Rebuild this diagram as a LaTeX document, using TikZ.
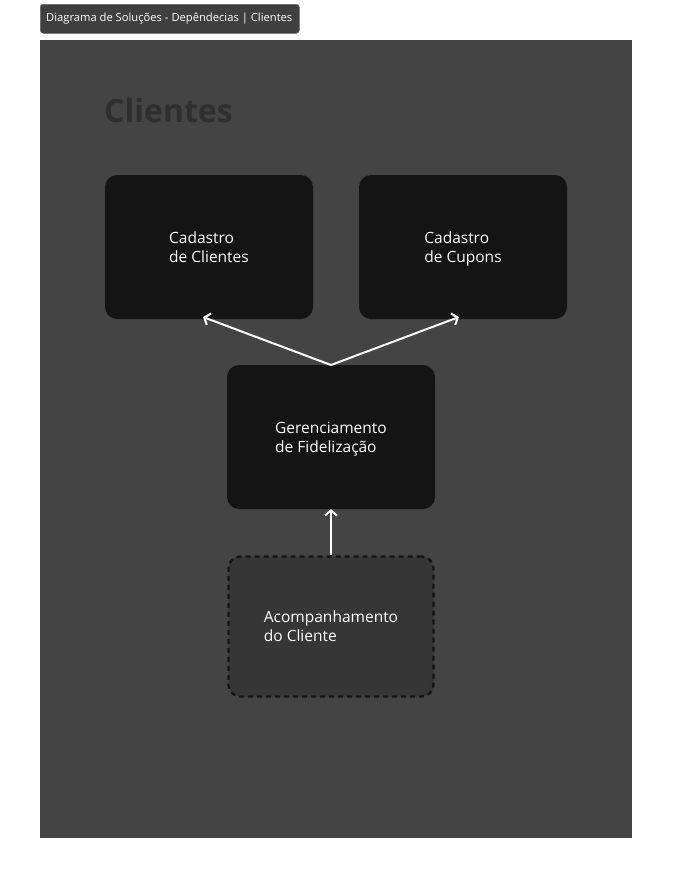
\documentclass[tikz,border=0pt]{standalone}
\usepackage{fontspec}
\setmainfont{Open Sans}
\usetikzlibrary{arrows.meta}
\definecolor{framebg}{HTML}{444444}
\definecolor{boxdark}{HTML}{141414}
\definecolor{boxmid}{HTML}{363636}
\definecolor{titlecol}{HTML}{2F2F2F}
\definecolor{tabbg}{HTML}{3F3F3F}
\tikzset{
  solbox/.style={fill=boxdark, rounded corners=12pt, minimum width=208pt, minimum height=144pt, inner sep=0pt},
  dashbox/.style={fill=boxmid, draw=boxdark, dashed, dash pattern=on 5pt off 4pt, line width=2.4pt, rounded corners=12pt, minimum width=205pt, minimum height=140pt, inner sep=0pt},
  lbl/.style={text=white, font=\fontsize{15.5}{19}\selectfont, align=left, yshift=-2pt},
  dep/.style={draw=white, line width=2pt, -{Straight Barb[length=5pt,width=12pt,line width=2pt]}},
}
\begin{document}
\begin{tikzpicture}[x=1pt,y=-1pt]
\useasboundingbox (0,0) rectangle (672,878);
\fill[white] (0,0) rectangle (672,878);
\fill[framebg] (40,40) rectangle (632,838);
\node[fill=tabbg, draw=black!60, line width=0.5pt, rounded corners=3pt, anchor=north west, minimum width=259pt, minimum height=29pt, inner sep=0pt] (tab) at (40,4) {};
\node[text=white, font=\fontsize{11.2}{13}\selectfont, anchor=west, inner sep=0pt] (tabtext) at (46,18.5) {Diagrama de Soluções - Depêndecias | Clientes};
\node[text=titlecol, font=\bfseries\fontsize{32}{38}\selectfont, anchor=west, inner sep=0pt] (title) at (104,110) {Clientes};
\node[solbox] (cc) at (209,247) {};
\node[lbl] at (cc) {Cadastro\strut\\de Clientes\strut};
\node[solbox] (cu) at (463,247) {};
\node[lbl] at (cu) {Cadastro\strut\\de Cupons\strut};
\node[solbox] (gf) at (331,437) {};
\node[lbl] at (gf) {Gerenciamento\strut\\de Fidelização\strut};
\node[dashbox] (ac) at (331,626.5) {};
\node[lbl] at (ac) {Acompanhamento\strut\\do Cliente\strut};
\coordinate (gtop) at (331,365);
\coordinate (ccb) at (203,317);
\coordinate (cub) at (459,317);
\draw[dep] (gtop) -- (ccb);
\draw[dep] (gtop) -- (cub);
\draw[dep] (ac.north) -- (gf.south);
\end{tikzpicture}
\end{document}
